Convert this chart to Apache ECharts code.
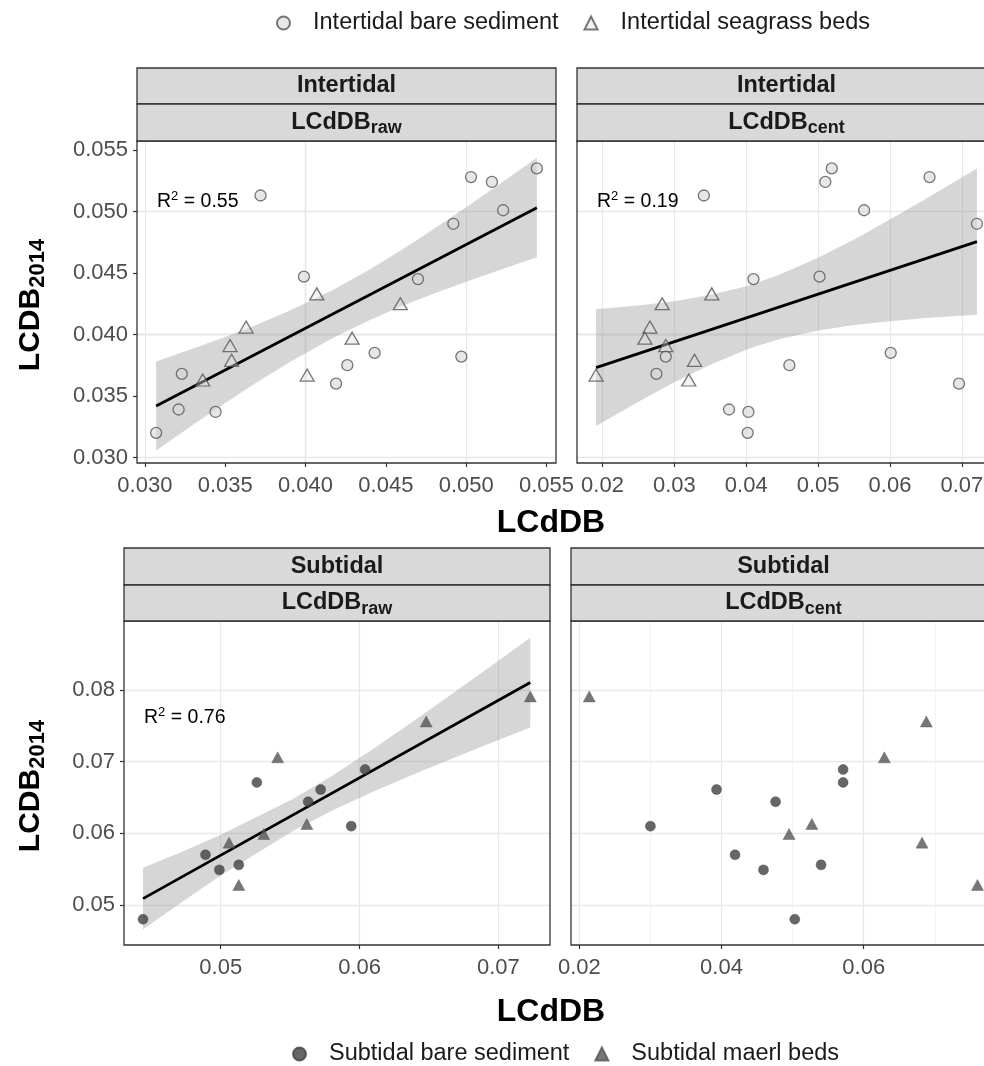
<!DOCTYPE html>
<html><head><meta charset="utf-8">
<script src="https://cdn.jsdelivr.net/npm/echarts@6/dist/echarts.min.js"></script>
<style>html,body{margin:0;padding:0;background:#fff;overflow:hidden;width:984px;height:1066px}#c{width:1000px;height:1066px}</style>
</head><body><div id="c"></div>
<script>
// ---------- DATA ----------
// Intertidal bare sediment: LCDB2014 (y), LCdDB raw (x), LCdDB cent (x)
const intBareY    = [0.0320,0.0339,0.0368,0.0337,0.0513,0.0447,0.0360,0.0375,0.0385,0.0445,0.0490,0.0382,0.0528,0.0524,0.0501,0.0535];
const intBareRaw  = [0.0307,0.0321,0.0323,0.0344,0.0372,0.0399,0.0419,0.0426,0.0443,0.0470,0.0492,0.0497,0.0503,0.0516,0.0523,0.0544];
const intBareCent = [0.0402,0.0376,0.0275,0.0403,0.0341,0.0502,0.0696,0.0460,0.0601,0.0410,0.0721,0.0288,0.0655,0.0510,0.0564,0.0519];
// Intertidal seagrass beds
const intSeaY     = [0.0363,0.0391,0.0379,0.0406,0.0367,0.0433,0.0397,0.0425];
const intSeaRaw   = [0.0336,0.0353,0.0354,0.0363,0.0401,0.0407,0.0429,0.0459];
const intSeaCent  = [0.0320,0.0288,0.0328,0.0266,0.0191,0.0352,0.0259,0.0283];
// Subtidal bare sediment
const subBareY    = [0.0480,0.0570,0.0549,0.0556,0.0671,0.0644,0.0661,0.0610,0.0689];
const subBareRaw  = [0.0444,0.0489,0.0499,0.0513,0.0526,0.0563,0.0572,0.0594,0.0604];
const subBareCent = [0.0503,0.0419,0.0459,0.0540,0.0571,0.0476,0.0393,0.0300,0.0571];
// Subtidal maerl beds
const subMaerlY    = [0.0587,0.0528,0.0599,0.0706,0.0613,0.0756,0.0791];
const subMaerlRaw  = [0.0506,0.0513,0.0531,0.0541,0.0562,0.0648,0.0723];
const subMaerlCent = [0.0682,0.0760,0.0495,0.0629,0.0527,0.0688,0.0214];

// Regression lines [x, y]
const fitIntRaw  = [[0.0307,0.03419],[0.0544,0.05031]];
const fitIntCent = [[0.0191,0.03730],[0.0721,0.04755]];
const fitSubRaw  = [[0.0444,0.05089],[0.0723,0.08103]];
// Confidence ribbons [x, lower, upper]
const bandIntRaw = [[0.0307,0.03057,0.03781],[0.0330,0.03265,0.03885],[0.0350,0.03442,0.03980],[0.0370,0.03614,0.04082],
  [0.0390,0.03775,0.04193],[0.0417,0.03972,0.04362],[0.0440,0.04118,0.04529],[0.0460,0.04231,0.04689],
  [0.0480,0.04333,0.04859],[0.0500,0.04429,0.05035],[0.0520,0.04521,0.05216],[0.0544,0.04627,0.05436]];
const bandIntCent = [[0.0191,0.03255,0.04205],[0.0250,0.03452,0.04236],[0.0300,0.03611,0.04271],[0.0350,0.03754,0.04321],
  [0.0400,0.03875,0.04393],[0.0417,0.03910,0.04424],[0.0450,0.03967,0.04495],[0.0500,0.04032,0.04624],
  [0.0550,0.04076,0.04772],[0.0600,0.04108,0.04934],[0.0650,0.04133,0.05103],[0.0721,0.04160,0.05350]];
const bandSubRaw = [[0.0444,0.04659,0.05519],[0.0470,0.05013,0.05727],[0.0500,0.05410,0.05979],[0.0552,0.06033,0.06479],
  [0.0580,0.06315,0.06801],[0.0610,0.06583,0.07181],[0.0640,0.06831,0.07581],[0.0670,0.07069,0.07991],
  [0.0700,0.07302,0.08408],[0.0723,0.07478,0.08728]];
const r2Values = ['0.55','0.19','0.76'];

// Tick values
const xTicksIntRaw  = [0.030,0.035,0.040,0.045,0.050,0.055];
const xTicksIntCent = [0.02,0.03,0.04,0.05,0.06,0.07];
const yTicksInt     = [0.030,0.035,0.040,0.045,0.050,0.055];
const xTicksSubRaw  = [0.05,0.06,0.07];
const xTicksSubCent = [0.02,0.04,0.06];
const yTicksSub     = [0.05,0.06,0.07,0.08];
const xMinorIntRaw  = [0.0325,0.0375,0.0425,0.0475,0.0525];
const xMinorIntCent = [0.025,0.035,0.045,0.055,0.065];
const yMinorInt     = [0.0325,0.0375,0.0425,0.0475,0.0525];
const xMinorSubRaw  = [0.045,0.055,0.065];
const xMinorSubCent = [0.03,0.05,0.07];
const yMinorSub     = [0.045,0.055,0.065,0.075,0.085];

// ---------- CHART ----------
const FONT = "'Liberation Sans', Arial, Helvetica, sans-serif";
const chart = echarts.init(document.getElementById('c'), null, {renderer:'canvas'});

const gridDefs = [
  {left:137, top:141, width:419, height:322},
  {left:577, top:141, width:419, height:322},
  {left:124, top:621, width:426, height:324},
  {left:571, top:621, width:425, height:324}
];
const grids = gridDefs.map(g => Object.assign({show:true, borderColor:'#333', borderWidth:1.3,
  backgroundColor:'transparent', containLabel:false, outerBoundsMode:'none', z:5}, g));

function axisCommon(ticks, dec, showLbl, isY) {
  return {
    axisLine:{show:false}, splitLine:{show:false},
    axisTick:{show:showLbl, length:4, inside:false, lineStyle:{color:'#333', width:1.2}, customValues:ticks},
    axisLabel:{show:showLbl, customValues:ticks, formatter:v=>v.toFixed(dec), color:'#4d4d4d',
      fontSize:22, fontFamily:FONT, margin:isY ? 9 : 12, hideOverlap:false}
  };
}
function mkX(gi, min, max, ticks, dec) {
  return Object.assign({type:'value', gridIndex:gi, min, max}, axisCommon(ticks, dec, true, false));
}
function mkY(gi, min, max, ticks, dec, show) {
  return Object.assign({type:'value', gridIndex:gi, min, max}, axisCommon(ticks, dec, show, true));
}

const xAxes = [
  mkX(0, 0.02951, 0.05559, xTicksIntRaw, 3),
  mkX(1, 0.01645, 0.07475, xTicksIntCent, 2),
  mkX(2, 0.04303, 0.07372, xTicksSubRaw, 2),
  mkX(3, 0.01883, 0.07860, xTicksSubCent, 2)
];
const yAxes = [
  mkY(0, 0.02955, 0.05573, yTicksInt, 3, true),
  mkY(1, 0.02955, 0.05573, yTicksInt, 3, false),
  mkY(2, 0.04442, 0.08962, yTicksSub, 2, true),
  mkY(3, 0.04442, 0.08962, yTicksSub, 2, false)
];

function gridLines(gi, xMaj, xMin, yMaj, yMin) {
  const maj = {color:'#e8e8e8', width:1.3, type:'solid'};
  const mnr = {color:'#f1f1f1', width:0.8, type:'solid'};
  const d = [];
  xMin.forEach(v => d.push({xAxis:v, lineStyle:mnr}));
  yMin.forEach(v => d.push({yAxis:v, lineStyle:mnr}));
  xMaj.forEach(v => d.push({xAxis:v, lineStyle:maj}));
  yMaj.forEach(v => d.push({yAxis:v, lineStyle:maj}));
  return {type:'line', xAxisIndex:gi, yAxisIndex:gi, data:[], z:1, silent:true,
    markLine:{z:1, silent:true, symbol:['none','none'], animation:false, label:{show:false},
      emphasis:{disabled:true}, lineStyle:maj, data:d}};
}
function ribbon(band, gi) {
  return {type:'custom', xAxisIndex:gi, yAxisIndex:gi, z:2, silent:true, data:band,
    encode:{x:0, y:[1,2]},
    renderItem:function(params, api){
      if (params.dataIndex !== 0) return null;
      const up = band.map(r => api.coord([r[0], r[2]]));
      const lo = band.slice().reverse().map(r => api.coord([r[0], r[1]]));
      return {type:'polygon', shape:{points:up.concat(lo)}, style:{fill:'rgba(153,153,153,0.4)'}};
    }};
}
function fitLine(d, gi) {
  return {type:'line', xAxisIndex:gi, yAxisIndex:gi, data:d, z:3, silent:true, showSymbol:false,
    lineStyle:{color:'#000', width:2.8}};
}
function pts(xs, ys) { return xs.map((x,i) => [x, ys[i]]); }
const openCircle = {color:'rgba(215,215,215,0.75)', borderColor:'#555', borderWidth:1.3};
const openTri = {color:'rgba(225,225,225,0.5)', borderColor:'#555', borderWidth:1.3};
const fillCircle = {color:'#404040', borderColor:'#404040', borderWidth:0.5};
const fillTri = {color:'#555555', borderColor:'#555555', borderWidth:0.5};
function scat(name, data, gi, sym, size, style) {
  return {type:'scatter', name, xAxisIndex:gi, yAxisIndex:gi, data, z:4, symbol:sym, symbolSize:size,
    itemStyle:style, silent:true};
}

const series = [
  gridLines(0, xTicksIntRaw, xMinorIntRaw, yTicksInt, yMinorInt),
  gridLines(1, xTicksIntCent, xMinorIntCent, yTicksInt, yMinorInt),
  gridLines(2, xTicksSubRaw, xMinorSubRaw, yTicksSub, yMinorSub),
  gridLines(3, xTicksSubCent, xMinorSubCent, yTicksSub, yMinorSub),
  ribbon(bandIntRaw, 0), ribbon(bandIntCent, 1), ribbon(bandSubRaw, 2),
  fitLine(fitIntRaw, 0), fitLine(fitIntCent, 1), fitLine(fitSubRaw, 2),
  scat('Intertidal bare sediment', pts(intBareRaw, intBareY), 0, 'circle', 11, openCircle),
  scat('Intertidal seagrass beds', pts(intSeaRaw, intSeaY), 0, 'triangle', [14,12], openTri),
  scat('Intertidal bare sediment', pts(intBareCent, intBareY), 1, 'circle', 11, openCircle),
  scat('Intertidal seagrass beds', pts(intSeaCent, intSeaY), 1, 'triangle', [14,12], openTri),
  scat('Subtidal bare sediment', pts(subBareRaw, subBareY), 2, 'circle', 10, fillCircle),
  scat('Subtidal maerl beds', pts(subMaerlRaw, subMaerlY), 2, 'triangle', [12,11], fillTri),
  scat('Subtidal bare sediment', pts(subBareCent, subBareY), 3, 'circle', 10, fillCircle),
  scat('Subtidal maerl beds', pts(subMaerlCent, subMaerlY), 3, 'triangle', [12,11], fillTri)
];

// ---------- graphic: strips, titles, R2 ----------
const stripFill = '#d9d9d9';
const g = [];
function strip(x, w, yTop, h1, h2, top, bottom, sub) {
  g.push({type:'rect', shape:{x:x, y:yTop, width:w, height:h1}, style:{fill:stripFill, stroke:'#333', lineWidth:1.3}, z:10});
  g.push({type:'rect', shape:{x:x, y:yTop+h1, width:w, height:h2}, style:{fill:stripFill, stroke:'#333', lineWidth:1.3}, z:10});
  g.push({type:'text', x:x+w/2, y:yTop+h1/2, z:11, style:{text:top, fontFamily:FONT, fontSize:23.5, fontWeight:'bold', fill:'#1a1a1a', align:'center', verticalAlign:'middle'}});
  g.push({type:'text', x:x+w/2, y:yTop+h1+h2/2, z:11, style:{text:'{a|'+bottom+'}{b|'+sub+'}', align:'center', verticalAlign:'middle',
    rich:{a:{fontFamily:FONT, fontSize:23.5, fontWeight:'bold', fill:'#1a1a1a', lineHeight:30},
          b:{fontFamily:FONT, fontSize:18, fontWeight:'bold', fill:'#1a1a1a', lineHeight:12, verticalAlign:'bottom'}}}});
}
strip(137, 419, 68, 36, 37, 'Intertidal', 'LCdDB', 'raw');
strip(577, 419, 68, 36, 37, 'Intertidal', 'LCdDB', 'cent');
strip(124, 426, 548, 37, 36, 'Subtidal', 'LCdDB', 'raw');
strip(571, 425, 548, 37, 36, 'Subtidal', 'LCdDB', 'cent');

function yTitle(cx, cy) {
  g.push({type:'text', x:cx, y:cy, rotation:Math.PI/2, z:11, style:{text:'{a|LCDB}{b|2014}', align:'center', verticalAlign:'middle',
    rich:{a:{fontFamily:FONT, fontSize:30, fontWeight:'bold', fill:'#000', lineHeight:36},
          b:{fontFamily:FONT, fontSize:22, fontWeight:'bold', fill:'#000', lineHeight:18, verticalAlign:'bottom'}}}});
}
yTitle(31, 305);
yTitle(31, 786);
function xTitle(cx, cy) {
  g.push({type:'text', x:cx, y:cy, z:11, style:{text:'LCdDB', fontFamily:FONT, fontSize:32, fontWeight:'bold', fill:'#000', align:'center', verticalAlign:'middle'}});
}
xTitle(551, 523);
xTitle(551, 1012);
function r2(x, y, val) {
  g.push({type:'text', x:x, y:y, z:11, style:{text:'{r|R}{s|2}{r| = '+val+'}', align:'left', verticalAlign:'middle',
    rich:{r:{fontFamily:FONT, fontSize:19.5, fill:'#000', lineHeight:24},
          s:{fontFamily:FONT, fontSize:13, fill:'#000', lineHeight:13, verticalAlign:'top'}}}});
}
r2(157, 202, r2Values[0]);
r2(597, 202, r2Values[1]);
r2(144, 718, r2Values[2]);

const legendCommon = {padding:0, itemWidth:13, itemHeight:13, itemGap:25, selectedMode:false,
  textStyle:{fontFamily:FONT, fontSize:23.5, color:'#1a1a1a', lineHeight:26, padding:[0,0,0,18]}};
const option = {
  animation:false,
  backgroundColor:'#fff',
  grid:grids, xAxis:xAxes, yAxis:yAxes, series,
  legend:[
    Object.assign({data:[{name:'Intertidal bare sediment', icon:'circle'},{name:'Intertidal seagrass beds', icon:'triangle'}],
      left:276, top:10}, legendCommon),
    Object.assign({data:[{name:'Subtidal bare sediment', icon:'circle'},{name:'Subtidal maerl beds', icon:'triangle'}],
      left:292, top:1041}, legendCommon)
  ],
  graphic:g
};
chart.setOption(option);
</script></body></html>
